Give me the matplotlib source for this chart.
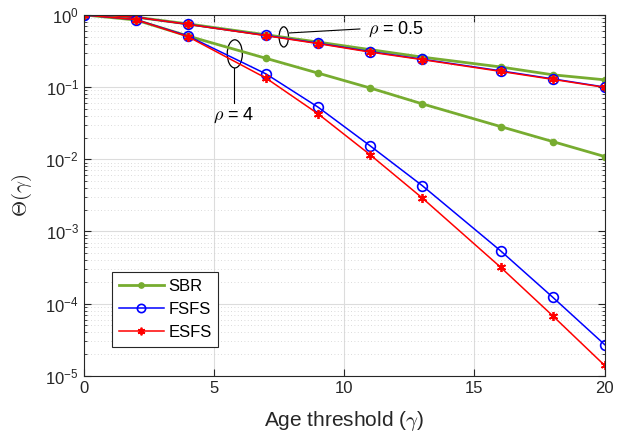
import numpy as np
import matplotlib
matplotlib.use("Agg")
from matplotlib import pyplot as plt
from matplotlib.patches import Ellipse
from matplotlib.ticker import LogLocator, NullFormatter

# age thresholds where values were computed
gamma = [0, 2, 4, 7, 9, 11, 13, 16, 18, 20]

# rho = 0.5
sbr_05 = [1.0, 0.93, 0.75, 0.53, 0.42, 0.33, 0.26, 0.19, 0.148, 0.126]
fsfs_05 = [1.0, 0.93, 0.74, 0.52, 0.405, 0.31, 0.243, 0.168, 0.13, 0.10]
esfs_05 = [1.0, 0.93, 0.74, 0.515, 0.40, 0.305, 0.24, 0.165, 0.128, 0.099]

# rho = 4
sbr_4 = [1.0, 0.85, 0.51, 0.25, 0.156, 0.097, 0.0585, 0.0284, 0.0176, 0.0109]
fsfs_4 = [1.0, 0.86, 0.51, 0.152, 0.0526, 0.0153, 0.0043, 5.4e-4, 1.23e-4, 2.7e-5]
esfs_4 = [1.0, 0.86, 0.50, 0.133, 0.0425, 0.0115, 0.0029, 3.2e-4, 6.8e-5, 1.39e-5]

plt.rcParams['font.family'] = ['Liberation Sans', 'DejaVu Sans']
plt.rcParams['mathtext.fontset'] = 'cm'

green = '#77AC30'
dark = '#262626'
star = (6, 2, 0)  # asterisk like matlab '*'

fig = plt.figure(figsize=(6.44, 4.38), dpi=100)
ax = fig.add_axes([0.130, 0.142, 0.809, 0.824])

ax.semilogy(gamma, sbr_05, color=green, lw=2, marker='.', ms=9, label='SBR')
ax.semilogy(gamma, fsfs_05, color='blue', lw=1.1, marker='o', ms=7, mfc='none', mew=1.2, label='FSFS')
ax.semilogy(gamma, esfs_05, color='red', lw=1.1, marker=star, ms=6.5, mew=1.3, label='ESFS')
ax.semilogy(gamma, sbr_4, color=green, lw=2, marker='.', ms=9)
ax.semilogy(gamma, fsfs_4, color='blue', lw=1.1, marker='o', ms=7, mfc='none', mew=1.2)
ax.semilogy(gamma, esfs_4, color='red', lw=1.1, marker=star, ms=6.5, mew=1.3)

ax.set_xlim(0, 20)
ax.set_ylim(1e-5, 1)
ax.set_xticks([0, 5, 10, 15, 20])
ax.yaxis.set_major_locator(LogLocator(base=10, numticks=10))
ax.yaxis.set_minor_locator(LogLocator(base=10, subs=np.arange(2, 10), numticks=20))
ax.yaxis.set_minor_formatter(NullFormatter())

ax.grid(True, which='major', color='#dcdcdc', lw=0.8)
ax.grid(True, which='minor', axis='y', color='#cfcfcf', lw=0.6, ls=(0, (1, 3)))
ax.set_axisbelow(True)

ax.tick_params(which='both', direction='in', top=True, right=True, colors=dark,
               labelsize=12)
ax.tick_params(which='major', length=5)
ax.tick_params(which='minor', length=2.5)
for s in ax.spines.values():
    s.set_color(dark)
    s.set_linewidth(0.8)

ax.set_xlabel(r'Age threshold ($\gamma$)', fontsize=15, color=dark, va='center')
ax.xaxis.set_label_coords(0.5, -0.125)
ax.set_ylabel(r'$\Theta(\gamma)$', fontsize=15, color=dark, va='center')
ax.yaxis.set_label_coords(-0.119, 0.501)

# rho = 0.5 annotation
ax.add_patch(Ellipse((0.384, 0.939), 0.018, 0.056, transform=ax.transAxes,
                     fill=False, ec='black', lw=0.9))
ax.plot([0.395, 0.530], [0.950, 0.961], transform=ax.transAxes, color='black', lw=0.8)
ax.text(0.545, 0.961, r'$\rho$ = 0.5', transform=ax.transAxes, fontsize=13,
        va='center', ha='left')

# rho = 4 annotation
ax.add_patch(Ellipse((0.290, 0.892), 0.029, 0.078, transform=ax.transAxes,
                     fill=False, ec='black', lw=0.9))
ax.plot([0.288, 0.288], [0.853, 0.756], transform=ax.transAxes, color='black', lw=0.8)
ax.text(0.288, 0.723, r'$\rho$ = 4', transform=ax.transAxes, fontsize=13,
        va='center', ha='center')

leg = ax.legend(loc='lower left', bbox_to_anchor=(0.054, 0.080), borderaxespad=0,
                fontsize=12, fancybox=False, edgecolor=dark, framealpha=1,
                handlelength=2.7, handletextpad=0.3, borderpad=0.4, labelspacing=0.5,
                markerscale=0.85)
leg.get_frame().set_linewidth(0.8)

fig.savefig('out.png', dpi=100)
